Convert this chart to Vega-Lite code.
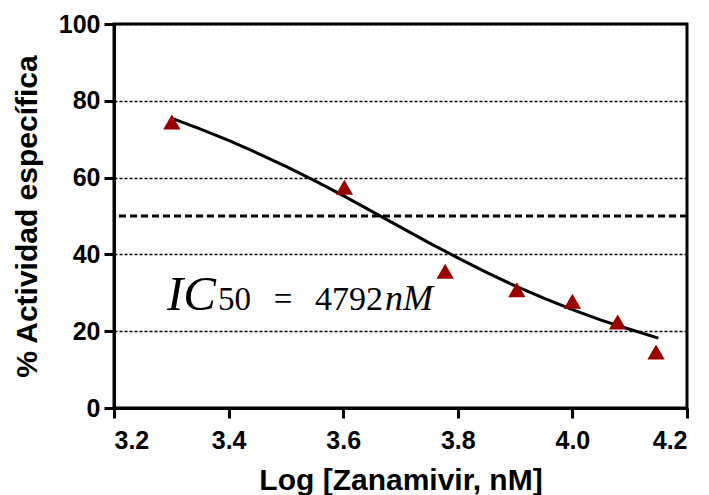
{
  "$schema": "https://vega.github.io/schema/vega-lite/v6.json",
  "width": 573,
  "height": 384,
  "autosize": {"type": "none"},
  "padding": {"left": 114, "top": 24, "right": 22, "bottom": 87},
  "background": "white",
  "config": {
    "view": {"stroke": "black", "strokeWidth": 3},
    "axis": {
      "domainColor": "black", "domainWidth": 3,
      "tickColor": "black", "tickWidth": 3, "tickSize": 10,
      "labelFont": "Liberation Sans", "labelFontWeight": "bold", "labelFontSize": 25, "labelColor": "black",
      "titleFont": "Liberation Sans", "titleFontWeight": "bold", "titleFontSize": 30, "titleColor": "black"
    }
  },
  "datasets": {
    "points": [
      {"x": 3.301, "y": 74.5},
      {"x": 3.602, "y": 57.5},
      {"x": 3.778, "y": 35.6},
      {"x": 3.903, "y": 30.8},
      {"x": 4.0, "y": 27.8},
      {"x": 4.079, "y": 22.4},
      {"x": 4.146, "y": 14.6}
    ],
    "curve": [
      {"x": 3.30, "y": 75.5},
      {"x": 3.35, "y": 72.7},
      {"x": 3.40, "y": 69.7},
      {"x": 3.45, "y": 66.4},
      {"x": 3.50, "y": 62.9},
      {"x": 3.55, "y": 59.2},
      {"x": 3.60, "y": 55.3},
      {"x": 3.65, "y": 51.2},
      {"x": 3.70, "y": 47.1},
      {"x": 3.75, "y": 43.0},
      {"x": 3.80, "y": 39.1},
      {"x": 3.85, "y": 35.3},
      {"x": 3.90, "y": 31.8},
      {"x": 3.95, "y": 28.6},
      {"x": 4.00, "y": 25.6},
      {"x": 4.05, "y": 22.9},
      {"x": 4.10, "y": 20.5},
      {"x": 4.15, "y": 18.2}
    ],
    "one": [{}]
  },
  "layer": [
    {
      "data": {"name": "curve"},
      "mark": {"type": "line", "color": "black", "strokeWidth": 3},
      "encoding": {
        "x": {
          "field": "x", "type": "quantitative",
          "scale": {"domain": [3.2, 4.2], "nice": false, "zero": false},
          "axis": {"title": "Log [Zanamivir, nM]", "values": [3.2, 3.4, 3.6, 3.8, 4.0, 4.2], "format": ".1f", "grid": false, "labelPadding": 10, "titlePadding": 12}
        },
        "y": {
          "field": "y", "type": "quantitative",
          "scale": {"domain": [0, 100], "nice": false},
          "axis": {"title": "% Actividad específica", "values": [0, 20, 40, 60, 80, 100], "grid": true, "gridColor": "black", "gridDash": [3, 2], "gridWidth": 1.3, "labelPadding": 4, "titlePadding": 16}
        }
      }
    },
    {
      "data": {"name": "one"},
      "mark": {"type": "rule", "color": "black", "strokeWidth": 3, "strokeDash": [7, 4]},
      "encoding": {"y": {"datum": 50}}
    },
    {
      "data": {"name": "points"},
      "mark": {"type": "point", "shape": "triangle-up", "filled": true, "color": "#9b0000", "opacity": 1, "size": 300},
      "encoding": {
        "x": {"field": "x", "type": "quantitative"},
        "y": {"field": "y", "type": "quantitative"}
      }
    },
    {
      "data": {"name": "one"},
      "mark": {"type": "text", "text": "IC", "font": "Liberation Serif", "fontStyle": "italic", "fontSize": 49, "align": "left", "baseline": "alphabetic", "color": "black"},
      "encoding": {"x": {"datum": 3.2925}, "y": {"datum": 25.5}}
    },
    {
      "data": {"name": "one"},
      "mark": {"type": "text", "text": "50", "font": "Liberation Serif", "fontSize": 33, "align": "left", "baseline": "alphabetic", "color": "black"},
      "encoding": {"x": {"datum": 3.3815}, "y": {"datum": 25.5}}
    },
    {
      "data": {"name": "one"},
      "mark": {"type": "text", "text": "=", "font": "Liberation Serif", "fontSize": 33, "align": "left", "baseline": "alphabetic", "color": "black"},
      "encoding": {"x": {"datum": 3.479}, "y": {"datum": 25.5}}
    },
    {
      "data": {"name": "one"},
      "mark": {"type": "text", "text": "4792", "font": "Liberation Serif", "fontSize": 34, "align": "left", "baseline": "alphabetic", "color": "black"},
      "encoding": {"x": {"datum": 3.5508}, "y": {"datum": 25.5}}
    },
    {
      "data": {"name": "one"},
      "mark": {"type": "text", "text": "nM", "font": "Liberation Serif", "fontStyle": "italic", "fontSize": 36, "align": "left", "baseline": "alphabetic", "color": "black"},
      "encoding": {"x": {"datum": 3.673}, "y": {"datum": 25.5}}
    }
  ]
}
